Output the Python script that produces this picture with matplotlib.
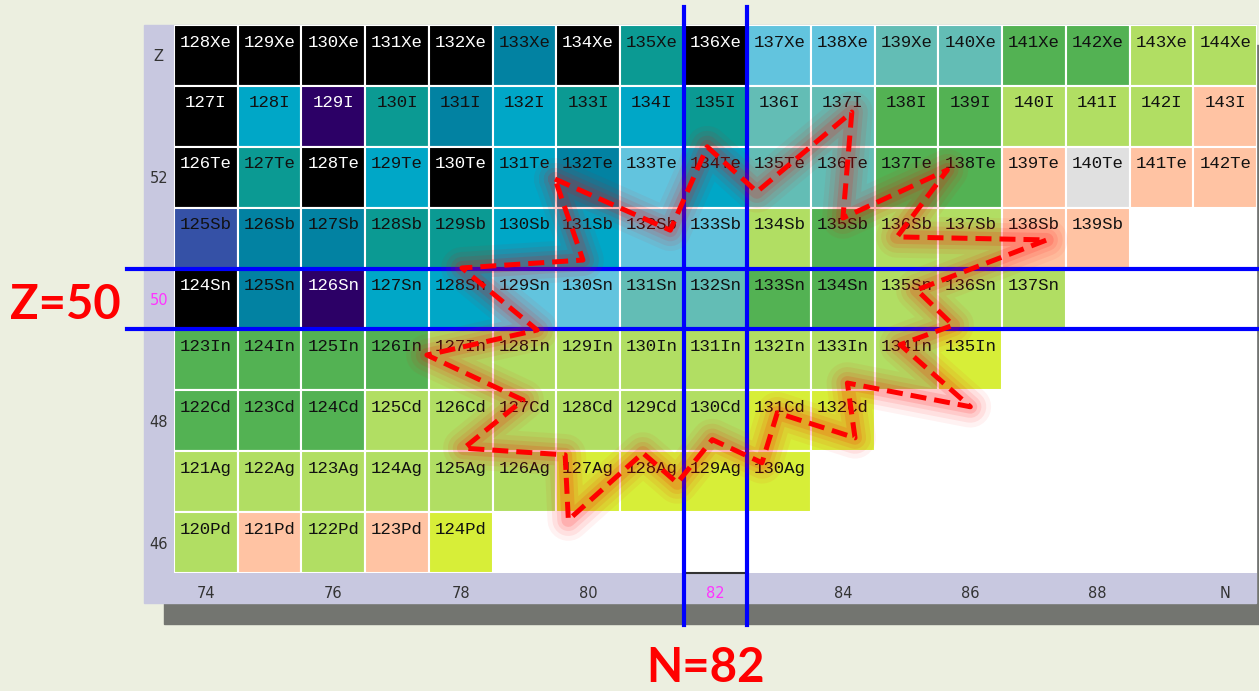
import matplotlib
matplotlib.use("Agg")
import matplotlib.pyplot as plt
from matplotlib.patches import Rectangle

W, H = 1259, 691

# chart rows (element, Z, first N, cell colour codes from that N on)
elements = ["Xe", "I", "Te", "Sb", "Sn", "In", "Cd", "Ag", "Pd"]
z_values = [54, 53, 52, 51, 50, 49, 48, 47, 46]
first_n = [74, 74, 74, 74, 74, 74, 74, 74, 74]
color_codes = [
    "KKKKKDKTKLLGGMMYY",
    "KCPTDCTCTGGMMYYYS",
    "KTKCKCDLCGGMMSWSS",
    "RDDTTCCLLYMYYSS",
    "KDPCCLLGGMMYYY",
    "MMMMYYYYYYYYJ",
    "MMMYYYYYYJJ",
    "YYYYYYJJJJ",
    "YSYSJ",
]

palette = {
    "K": "#000000", "P": "#2C0066", "R": "#3551A6", "D": "#0282A2",
    "T": "#0B9A93", "C": "#00A7C7", "L": "#62C4DE", "G": "#63BDB5",
    "M": "#53B253", "Y": "#B1DE63", "S": "#FFC3A3", "W": "#E0E0E0",
    "J": "#D7EE38",
}
white_text = {"K", "P"}

# axis ticks
x_ticks = [74, 76, 78, 80, 82, 84, 86, 88, 90]
x_labels = ["74", "76", "78", "80", "82", "84", "86", "88", "N"]
y_ticks = [54, 52, 50, 48, 46]
y_labels = ["Z", "52", "50", "48", "46"]

# magic numbers
magic_n = 82
magic_z = 50

# dashed burst outline (N, Z)
path_n = [79.48, 81.29, 81.87, 82.65, 84.14, 84.00, 85.64, 84.85, 87.20, 85.16,
          85.73, 84.90, 86.00, 84.07, 84.19, 82.97, 82.73, 81.95, 81.40, 80.86,
          79.69, 79.64, 78.05, 78.98, 77.47, 79.20, 78.02, 79.92]
path_z = [51.97, 51.13, 52.50, 51.76, 53.07, 51.33, 52.12, 51.02, 50.97, 50.15,
          49.57, 49.25, 48.23, 48.62, 47.72, 48.13, 47.31, 47.69, 46.98, 47.47,
          46.37, 47.44, 47.55, 48.34, 49.08, 49.49, 50.51, 50.64]


def fig_xy(x, y):
    return x / W, 1 - y / H


fig = plt.figure(figsize=(W / 100, H / 100), dpi=100)
fig.patch.set_facecolor("#ECEFE0")

# shadow and lavender frame
x0, y0 = fig_xy(164, 624)
fig.add_artist(Rectangle((x0, y0), (1262 - 164) / W, (624 - 45) / H,
                         transform=fig.transFigure, color="#737570", zorder=-2))
x0, y0 = fig_xy(144, 603)
fig.add_artist(Rectangle((x0, y0), (1256 - 144) / W, (603 - 25) / H,
                         transform=fig.transFigure, color="#C8C8E0", zorder=-1))

left, top = fig_xy(174, 25)
right, bottom = fig_xy(1257, 573)
ax = fig.add_axes([left, bottom, right - left, top - bottom])
ax.set_facecolor("white")
ax.set_xlim(73.5, 90.5)
ax.set_ylim(45.5, 54.5)
for s in ax.spines.values():
    s.set_visible(False)

for el, z, n0, codes in zip(elements, z_values, first_n, color_codes):
    ns = list(range(n0, n0 + len(codes)))
    ax.bar(ns, 1.0, bottom=z - 0.5, width=1.0,
           color=[palette[c] for c in codes], edgecolor="white", linewidth=1.5, zorder=1)
    for n, c in zip(ns, codes):
        ax.text(n, z + 0.22, f"{z + n}{el}", ha="center", va="center",
                family="Liberation Mono", fontsize=12.5,
                color="white" if c in white_text else "#111111", zorder=2)

ax.set_xticks(x_ticks)
ax.set_xticklabels(x_labels)
ax.set_yticks(y_ticks)
ax.set_yticklabels(y_labels)
ax.tick_params(axis="x", length=0, pad=9, labelsize=10.5, labelcolor="#333333")
ax.tick_params(axis="y", length=0, pad=11, labelsize=10.5, labelcolor="#333333")
for lab in ax.get_yticklabels():
    lab.set_ha("center")
    if lab.get_text() == str(magic_z):
        lab.set_color("#FF33FF")
for lab in ax.get_xticklabels():
    if lab.get_text() == str(magic_n):
        lab.set_color("#FF33FF")

# selected column marker
ax.plot([magic_n - 0.5, magic_n + 0.5], [45.5, 45.5], color="#333333", lw=1.5,
        clip_on=False, zorder=2)

# magic number lines
blue = "#0000FF"
for xv in (magic_n - 0.5, magic_n + 0.5):
    ax.plot([xv, xv], [54.8, 44.65], color=blue, lw=3, clip_on=False, zorder=3)
for yv in (magic_z + 0.5, magic_z - 0.5):
    ax.plot([72.76, 90.6], [yv, yv], color=blue, lw=3, clip_on=False, zorder=3)

# burst outline with soft glow
pn = path_n + path_n[:1]
pz = path_z + path_z[:1]
for lw, a in [(30, 0.05), (23, 0.07), (16, 0.09), (10, 0.13)]:
    ax.plot(pn, pz, color="red", lw=lw, alpha=a, solid_joinstyle="round",
            solid_capstyle="round", zorder=4)
ax.plot(pn, pz, color="#FF0000", lw=3.6, linestyle=(0, (3.2, 1.6)),
        dash_capstyle="butt", zorder=5)

fx, fy = fig_xy(65, 305)
fig.text(fx, fy, "Z=50", color="#FF0000", fontsize=34, fontweight="bold",
         family="Lato", ha="center", va="center")
fx, fy = fig_xy(705, 668)
fig.text(fx, fy, "N=82", color="#FF0000", fontsize=34, fontweight="bold",
         family="Lato", ha="center", va="center")

fig.savefig("out.png", dpi=100, facecolor=fig.get_facecolor())
